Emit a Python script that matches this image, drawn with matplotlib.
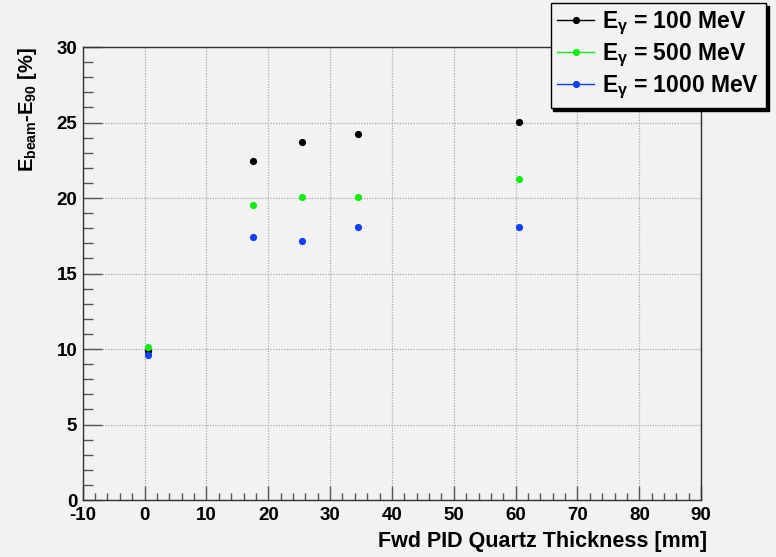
import matplotlib
matplotlib.use('Agg')
import matplotlib.pyplot as plt
import matplotlib.ticker as ticker
from matplotlib.lines import Line2D

# Fwd PID quartz thickness [mm]
thickness = [0.5, 17.5, 25.5, 34.5, 60.5]

# E_beam - E_90 [%] per photon energy
res_100mev = [9.87, 22.42, 23.74, 24.22, 25.06]
res_500mev = [10.13, 19.56, 20.05, 20.09, 21.28]
res_1000mev = [9.58, 17.42, 17.15, 18.06, 18.10]

series_labels = [r'$E_{\gamma}$ = 100 MeV', r'$E_{\gamma}$ = 500 MeV', r'$E_{\gamma}$ = 1000 MeV']
series_colors = ['#000000', '#11ee11', '#1040ff']

bg = '#f2f2f2'
plt.rcParams['font.family'] = ['Liberation Sans', 'DejaVu Sans']
plt.rcParams['font.weight'] = 'bold'
plt.rcParams['axes.unicode_minus'] = False
plt.rcParams['mathtext.fontset'] = 'custom'
plt.rcParams['mathtext.rm'] = 'Liberation Sans:bold'
plt.rcParams['mathtext.it'] = 'Liberation Sans:bold'
plt.rcParams['mathtext.bf'] = 'Liberation Sans:bold'

fig = plt.figure(figsize=(7.76, 5.57), dpi=100, facecolor=bg)
ax = fig.add_axes([0.1066, 0.1023, 0.797, 0.8133], facecolor=bg)

for ys, col in zip([res_100mev, res_500mev, res_1000mev], series_colors):
    ax.plot(thickness, ys, linestyle='none', marker='o', markersize=5.2,
            color=col, markeredgewidth=0, zorder=3)

ax.set_xlim(-10, 90)
ax.set_ylim(0, 30)
ax.xaxis.set_major_locator(ticker.MultipleLocator(10))
ax.xaxis.set_minor_locator(ticker.MultipleLocator(2))
ax.yaxis.set_major_locator(ticker.MultipleLocator(5))
ax.yaxis.set_minor_locator(ticker.MultipleLocator(1))

ax.tick_params(axis='x', which='major', direction='in', length=10, width=1, color='#555555', pad=5, labelsize=13.5)
ax.tick_params(axis='x', which='minor', direction='in', length=5, width=1, color='#555555')
ax.tick_params(axis='y', which='major', direction='in', length=14, width=1, color='#555555', pad=4, labelsize=13.5)
ax.tick_params(axis='y', which='minor', direction='in', length=7, width=1, color='#555555')
for lab in ax.get_xticklabels() + ax.get_yticklabels():
    lab.set_fontweight('bold')

ax.grid(True, which='major', color='#aaaaaa', linestyle=(0, (1, 1.2)), linewidth=0.9)
ax.set_axisbelow(True)
for sp in ax.spines.values():
    sp.set_color('#333333')
    sp.set_linewidth(1)

ax.set_xlabel('Fwd PID Quartz Thickness [mm]', fontsize=15.5, fontweight='bold', loc='right')
ax.xaxis.set_label_coords(1.01, -0.068)
ax.set_ylabel(r'$E_{beam}$-$E_{90}$ [%]', fontsize=14.5, fontweight='bold', loc='top')
ax.yaxis.set_label_coords(-0.07, 1.0)

handles = [Line2D([], [], color=c, marker='o', markersize=5.2, markeredgewidth=0, linewidth=1)
           for c in series_colors]
leg = fig.legend(handles, series_labels, loc='upper right',
                 bbox_to_anchor=(766 / 776, 1 - 3 / 557),
                 fontsize=16.5, frameon=True, fancybox=False,
                 shadow={'color': 'black', 'alpha': 1.0, 'ox': 2, 'oy': -2},
                 handlelength=1.6, handletextpad=0.35, labelspacing=0.2,
                 borderpad=0.3, borderaxespad=0)
leg.get_frame().set_edgecolor('black')
leg.get_frame().set_facecolor(bg)
leg.get_frame().set_linewidth(1)
for t in leg.get_texts():
    t.set_fontweight('bold')

plt.savefig('out.png', dpi=100, facecolor=bg)
